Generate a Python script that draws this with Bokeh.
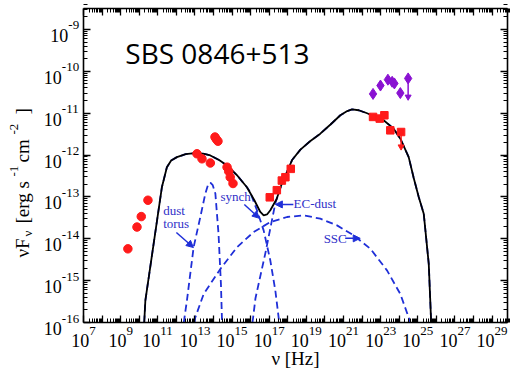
import math
from bokeh.plotting import figure
from bokeh.models import LogAxis, FixedTicker, Label, Arrow, NormalHead
from bokeh.embed import file_html
from bokeh.resources import INLINE

# ---- SED of SBS 0846+513 (log10 nu [Hz], log10 nuF_nu [erg s^-1 cm^-2]) ----
total_lognu = [10.27, 10.33, 11.22, 11.49, 11.72, 12.03, 12.50, 13.11, 13.50, 13.83,
               14.30, 14.73, 15.30, 15.80, 16.20, 16.52, 16.70, 16.88, 17.06, 17.40,
               17.65, 18.23, 18.68, 19.20, 19.75, 20.30, 20.83, 21.20, 21.46, 21.82,
               22.20, 22.54, 23.16, 23.70, 24.06, 24.51, 24.78, 25.05, 25.32, 25.59,
               25.72]
total_logflux = [-16.00, -15.48, -12.77, -12.29, -12.13, -12.05, -11.98, -11.95, -11.97, -12.01,
                 -12.12, -12.25, -12.50, -12.77, -13.08, -13.36, -13.44, -13.42, -13.32, -13.05,
                 -12.72, -12.12, -11.87, -11.67, -11.49, -11.27, -11.05, -10.95, -10.91, -10.93,
                 -10.99, -11.05, -11.17, -11.37, -11.61, -12.05, -12.55, -13.00, -13.40, -14.60,
                 -16.00]

synch_lognu = [10.27, 10.33, 11.22, 11.49, 11.72, 12.03, 12.50, 13.11, 13.50, 13.83,
               14.30, 14.73, 15.30, 15.80, 15.98, 16.34, 16.70, 17.06, 17.33, 17.54]
synch_logflux = [-16.00, -15.48, -12.77, -12.29, -12.13, -12.05, -11.98, -11.95, -11.97, -12.01,
                 -12.12, -12.25, -12.50, -12.77, -12.89, -13.32, -13.80, -14.52, -15.24, -16.00]

dust_lognu = [12.40, 12.57, 12.93, 13.29, 13.56, 13.70, 13.83, 13.96, 14.10,
              14.27, 14.40, 14.46]
dust_logflux = [-16.00, -15.47, -14.20, -13.48, -12.92, -12.72, -12.66, -12.72, -12.92,
                -13.88, -15.08, -16.00]

ssc_lognu = [12.98, 13.02, 13.47, 14.37, 15.27, 16.16, 17.06, 17.96, 18.85, 19.75,
             20.65, 21.55, 22.45, 23.35, 24.06, 24.51, 24.60]
ssc_logflux = [-16.00, -15.88, -15.32, -14.72, -14.20, -13.84, -13.60, -13.48, -13.44, -13.52,
               -13.68, -13.92, -14.24, -14.76, -15.32, -15.88, -16.00]

ecdust_lognu = [16.10, 16.26, 16.79, 17.33, 17.65, 18.23, 18.68, 19.20, 19.75, 20.30,
                20.83, 21.20, 21.46, 21.82, 22.20, 22.54, 23.16, 23.70, 24.06, 24.51,
                24.78, 25.05, 25.32, 25.59, 25.72]
ecdust_logflux = [-16.00, -15.42, -14.35, -13.15, -12.72, -12.12, -11.87, -11.67, -11.49, -11.27,
                  -11.05, -10.95, -10.91, -10.93, -10.99, -11.05, -11.17, -11.37, -11.61, -12.05,
                  -12.55, -13.00, -13.40, -14.60, -16.00]

# observed fluxes
radio_lognu = [9.39, 9.88, 10.11, 10.47]
radio_logflux = [-14.24, -13.72, -13.47, -13.08]
opt_lognu = [13.11, 13.38, 13.83, 14.08, 14.15, 14.24, 14.73, 14.82, 14.90, 15.05]
opt_logflux = [-11.97, -12.09, -12.19, -11.57, -11.62, -11.67, -12.29, -12.39, -12.53, -12.68]
xray_lognu = [17.03, 17.41, 17.68, 17.87, 18.16]
xray_logflux = [-13.01, -12.84, -12.61, -12.53, -12.33]
lat_low_lognu = [22.59, 22.95, 23.20, 23.52, 24.10]
lat_low_logflux = [-11.09, -11.13, -11.05, -11.41, -11.45]
lat_low_ul_logflux = -11.80
lat_flare_lognu = [22.59, 22.99, 23.39, 23.62, 23.74, 24.06, 24.48]
lat_flare_logflux = [-10.54, -10.34, -10.20, -10.25, -10.29, -10.52, -10.17]
lat_flare_ul_logflux = -10.61

# axes: decades
x_major_exp = list(range(7, 30))
x_label_exp = list(range(7, 30, 2))
y_major_exp = list(range(-16, -8))
x_min_exp, x_max_exp = 7.0, 29.83
y_min_exp, y_max_exp = -16.0, -8.5


def lin(vals):
    return [10.0 ** v for v in vals]


BLUE = "#1f2fd8"
BLUE_TXT = "#3030c8"
RED = "#ff1a1a"
PURPLE = "#8a12d2"
SERIF = "Liberation Serif"

# canvas size and the margins around the axes box (pixels)
W, H = 510, 368
M_LEFT, M_RIGHT, M_TOP, M_BOTTOM = 83, 3, 8, 46
PX_DEC_X = (W - M_LEFT - M_RIGHT) / (x_max_exp - x_min_exp)
PX_DEC_Y = (H - M_TOP - M_BOTTOM) / (y_max_exp - y_min_exp)

# the drawing area spans the whole canvas; the axes are pinned around the data box
p = figure(width=W, height=H, x_axis_type="log", y_axis_type="log",
           x_axis_location=None, y_axis_location=None,
           x_range=(10 ** (x_min_exp - M_LEFT / PX_DEC_X), 10 ** (x_max_exp + M_RIGHT / PX_DEC_X)),
           y_range=(10 ** (y_min_exp - M_BOTTOM / PX_DEC_Y), 10 ** (y_max_exp + M_TOP / PX_DEC_Y)),
           output_backend="svg", toolbar_location=None, title=None,
           min_border=0)
p.grid.visible = False
p.outline_line_color = None
p.background_fill_color = "white"
p.border_fill_color = "white"

XLO, XHI = 10 ** x_min_exp, 10 ** x_max_exp
YLO, YHI = 10 ** y_min_exp, 10 ** y_max_exp

x_ticker = FixedTicker(ticks=lin(x_major_exp),
                       minor_ticks=[m * 10.0 ** e for e in range(7, 30) for m in range(2, 10)])
y_ticker = FixedTicker(ticks=lin(y_major_exp),
                       minor_ticks=[m * 10.0 ** e for e in range(-16, -8) for m in range(2, 10)])


def make_axis(ticker, fixed, bounds, side):
    ax = LogAxis(ticker=ticker, fixed_location=fixed, bounds=bounds)
    ax.major_label_text_font_size = "1px"
    ax.major_label_text_alpha = 0
    ax.major_label_standoff = 0
    ax.major_tick_in = 7
    ax.major_tick_out = 0
    ax.minor_tick_in = 4
    ax.minor_tick_out = 0
    ax.axis_line_color = "black"
    ax.axis_line_width = 1.6
    ax.major_tick_line_color = "black"
    ax.minor_tick_line_color = "black"
    ax.major_tick_line_width = 1.3
    ax.minor_tick_line_width = 1
    p.add_layout(ax, side)


make_axis(x_ticker, YLO, (XLO, XHI), "below")
make_axis(x_ticker, YHI, (XLO, XHI), "above")
make_axis(y_ticker, XLO, (YLO, YHI), "left")
make_axis(y_ticker, XHI, (YLO, YHI), "right")

# model components
dash = dict(line_color=BLUE, line_width=1.8, line_dash="7 4")
p.line(lin(synch_lognu), lin(synch_logflux), **dash)
p.line(lin(dust_lognu), lin(dust_logflux), **dash)
p.line(lin(ssc_lognu), lin(ssc_logflux), **dash)
p.line(lin(ecdust_lognu), lin(ecdust_logflux), **dash)
p.line(lin(total_lognu), lin(total_logflux), line_color="black", line_width=1.8)

# data
p.scatter(lin(radio_lognu), lin(radio_logflux), marker="circle", size=8.5,
          fill_color=RED, line_color=RED)
p.scatter(lin(opt_lognu), lin(opt_logflux), marker="circle", size=8.5,
          fill_color=RED, line_color=RED)
p.scatter(lin(xray_lognu), lin(xray_logflux), marker="square", size=7.5,
          fill_color=RED, line_color=RED)
p.scatter(lin(lat_low_lognu), lin(lat_low_logflux), marker="square", size=7.5,
          fill_color=RED, line_color=RED)
p.segment(x0=[10 ** lat_low_lognu[-1]], y0=[10 ** lat_low_logflux[-1]],
          x1=[10 ** lat_low_lognu[-1]], y1=[10 ** lat_low_ul_logflux],
          line_color=RED, line_width=1.5)
p.scatter([10 ** lat_low_lognu[-1]], [10 ** lat_low_ul_logflux], marker="inverted_triangle",
          size=6, fill_color=RED, line_color=RED)
p.scatter(lin(lat_flare_lognu), lin(lat_flare_logflux), marker="diamond", size=11,
          fill_color=PURPLE, line_color=PURPLE)
p.segment(x0=[10 ** lat_flare_lognu[-1]], y0=[10 ** lat_flare_logflux[-1]],
          x1=[10 ** lat_flare_lognu[-1]], y1=[10 ** lat_flare_ul_logflux],
          line_color=PURPLE, line_width=1.5)
p.scatter([10 ** lat_flare_lognu[-1]], [10 ** lat_flare_ul_logflux], marker="inverted_triangle",
          size=6, fill_color=PURPLE, line_color=PURPLE)


def text_at(x, y, text, size, dx=0.0, dy=0.0, align="left", angle=0.0,
            color="black", font=SERIF):
    """Text anchored at a data point, shifted by (dx, dy) pixels (dy up)."""
    p.add_layout(Label(x=x, y=y, x_offset=dx, y_offset=dy, text=text,
                       text_align=align, text_baseline="alphabetic", angle=angle,
                       text_font=font, text_font_size=f"{size}px", text_color=color))


# tick labels: 10 with a superscript exponent
for e in x_label_exp:
    s = str(e)
    j = (18 - 13 * 0.5 * len(s)) / 2
    text_at(10.0 ** e, YLO, "10", 18, dx=j, dy=-18, align="right")
    text_at(10.0 ** e, YLO, s, 13, dx=j, dy=-8)

for e in y_major_exp:
    s = str(e)
    w_sup = 13 * (0.333 + 0.5 * (len(s) - 1))
    xe = -4.3 - w_sup
    text_at(XLO, 10.0 ** e, "10", 18, dx=xe, dy=-6, align="right")
    text_at(XLO, 10.0 ** e, s, 13, dx=xe, dy=4)

# axis titles
text_at(10 ** ((x_min_exp + x_max_exp) / 2), YLO, "ν [Hz]", 19, dy=-36, align="center")

# y title pieces: (text, start along the axis in px above the box bottom, size, shift)
ylab_parts = [("νF", 65, 19, 0), ("ν", 86, 13, 5), ("[erg s", 99, 19, 0),
              ("-1", 146, 13, -9), ("cm", 160, 19, 0), ("-2", 188, 13, -9), ("]", 208, 19, 0)]
for t, start, size, shift in ylab_parts:
    text_at(XLO, YLO, t, size, dx=22 - M_LEFT + shift, dy=start, angle=math.pi / 2)

# source name
text_at(10 ** 9.25, 10 ** -9.57, "SBS 0846+513", 28, font="Open Sans")

# component annotations
notes = [("dust", 11.29, -13.32), ("torus", 11.29, -13.63), ("synch", 14.37, -12.99),
         ("EC-dust", 18.31, -13.15), ("SSC", 19.93, -13.99)]
for t, lx, ly in notes:
    text_at(10 ** lx, 10 ** ly, t, 13, color=BLUE_TXT)

pointers = [((12.0, -13.85), (12.92, -14.21)), ((15.66, -13.18), (16.47, -13.51)),
            ((18.30, -13.18), (17.33, -13.18)), ((21.09, -13.99), (21.90, -13.99))]
for (ax0, ay0), (ax1, ay1) in pointers:
    p.add_layout(Arrow(end=NormalHead(size=7, fill_color=BLUE, line_color=BLUE),
                       x_start=10 ** ax0, y_start=10 ** ay0, x_end=10 ** ax1, y_end=10 ** ay1,
                       line_color=BLUE, line_width=1.5))

open("out.html", "w").write(file_html(p, INLINE))
